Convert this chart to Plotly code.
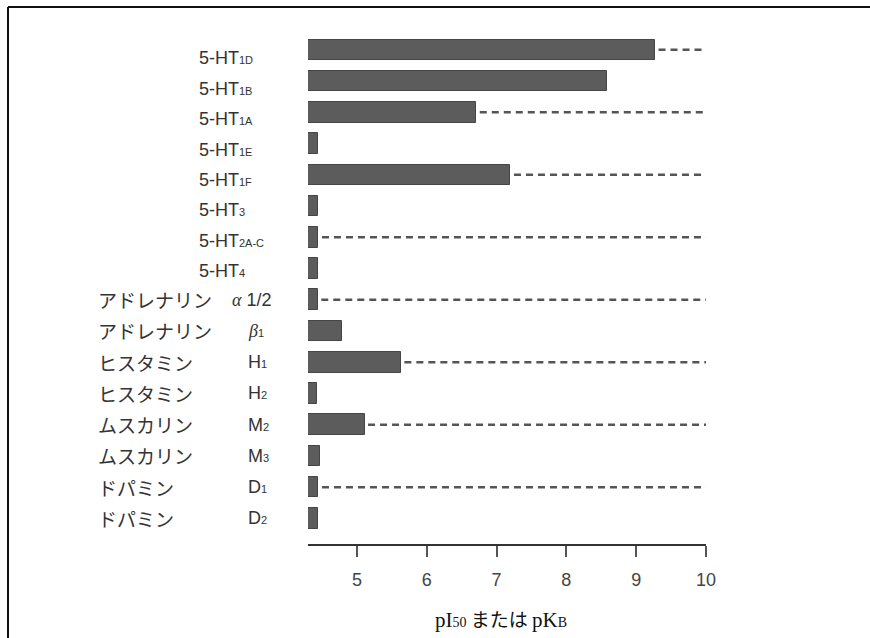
import plotly.graph_objects as go

# Receptor rows, top to bottom
row_ids = ["5-HT1D", "5-HT1B", "5-HT1A", "5-HT1E", "5-HT1F", "5-HT3", "5-HT2A-C", "5-HT4",
           "アドレナリンα1/2", "アドレナリンβ1", "ヒスタミンH1", "ヒスタミンH2",
           "ムスカリンM2", "ムスカリンM3", "ドパミンD1", "ドパミンD2"]
families = ["", "", "", "", "", "", "", "",
            "アドレナリン", "アドレナリン", "ヒスタミン", "ヒスタミン",
            "ムスカリン", "ムスカリン", "ドパミン", "ドパミン"]
subtype_main = ["5-HT", "5-HT", "5-HT", "5-HT", "5-HT", "5-HT", "5-HT", "5-HT",
                "α", "β", "H", "H", "M", "M", "D", "D"]
subtype_sub = ["1D", "1B", "1A", "1E", "1F", "3", "2A-C", "4",
               "", "1", "1", "2", "2", "3", "1", "2"]
# pI50 / pKB values (bar ends)
values = [9.27, 8.58, 6.71, 4.45, 7.20, 4.45, 4.45, 4.45,
          4.44, 4.79, 5.63, 4.43, 5.11, 4.47, 4.45, 4.45]
# rows whose value is open-ended (dashed extension to the axis end)
open_ended = [True, False, True, False, True, False, True, False,
              True, False, True, False, True, False, True, False]

x_ticks = [5, 6, 7, 8, 9, 10]
x_min, x_max = 4.3, 10

# plot-area geometry in pixels
W_FIG, H_FIG = 870, 638
L, R, T, B = 308, 164, 28, 94
PW, PH = W_FIG - L - R, H_FIG - T - B


def px_x(px):
    return (px - L) / PW


def px_y(py):
    return (H_FIG - B - py) / PH


BAR = "#5c5c5c"
TXT = "#333333"

fig = go.Figure()
fig.add_trace(go.Bar(
    y=row_ids, x=[v - x_min for v in values], base=x_min, orientation="h",
    width=0.66, marker=dict(color=BAR, line=dict(color="#454545", width=1)),
    hoverinfo="skip", showlegend=False,
))

# dashed extensions for open-ended values
dx, dy = [], []
for rid, v, o in zip(row_ids, values, open_ended):
    if o:
        dx += [v + 0.05, x_max, None]
        dy += [rid, rid, None]
fig.add_trace(go.Scatter(
    x=dx, y=dy, mode="lines", line=dict(color="#555555", width=2.5, dash="7px,5px"),
    hoverinfo="skip", showlegend=False, cliponaxis=False,
))

annotations = []
n_ht = subtype_main.count("5-HT")
ht_i = 0
for rid, fam, main, sub in zip(row_ids, families, subtype_main, subtype_sub):
    if main == "5-HT":
        # the 5-HT label column sits a little below the bars, drifting back up toward 5-HT4
        shift = -(8.3 - 5.5 * ht_i / (n_ht - 1))
        ht_i += 1
        annotations.append(dict(
            x=px_x(197), xref="paper", y=rid, yref="y", xanchor="left", yanchor="middle",
            yshift=shift, showarrow=False,
            text=f"5-HT<span style='font-size:11px'>{sub}</span>",
            font=dict(family="Liberation Sans", size=18, color=TXT),
        ))
        continue
    annotations.append(dict(
        x=px_x(96), xref="paper", y=rid, yref="y", xanchor="left", yanchor="middle",
        showarrow=False, text=fam,
        font=dict(family="Noto Sans CJK JP", size=19, color=TXT),
    ))
    if main == "α":
        txt = "<i style='font-family:Liberation Serif'>α</i> 1/2"
        annotations.append(dict(
            x=px_x(273), xref="paper", y=rid, yref="y", xanchor="right", yanchor="middle",
            showarrow=False, text=txt,
            font=dict(family="Liberation Sans", size=18, color=TXT),
        ))
    else:
        if main == "β":
            head = "<i style='font-family:Liberation Serif'>β</i>"
        else:
            head = main
        annotations.append(dict(
            x=px_x(246), xref="paper", y=rid, yref="y", xanchor="left", yanchor="middle",
            showarrow=False, text=f"{head}<span style='font-size:11px'>{sub}</span>",
            font=dict(family="Liberation Sans", size=18, color=TXT),
        ))

# axis title
serif = "font-family:Liberation Serif"
annotations.append(dict(
    x=px_x(501), xref="paper", y=px_y(618), yref="paper", xanchor="center", yanchor="middle",
    showarrow=False,
    text=(f"<span style='{serif};font-size:21px'>pI</span>"
          f"<span style='{serif};font-size:14px'>50</span> または "
          f"<span style='{serif};font-size:21px'>pK</span>"
          f"<span style='{serif};font-size:14px'>B</span>"),
    font=dict(family="Noto Sans CJK JP", size=19, color="#111111"),
))

# frame lines on the left and top
shapes = [
    dict(type="line", xref="paper", yref="paper", x0=px_x(8), x1=px_x(8),
         y0=px_y(7), y1=px_y(640), line=dict(color="#111111", width=2)),
    dict(type="line", xref="paper", yref="paper", x0=px_x(8), x1=px_x(872),
         y0=px_y(7), y1=px_y(7), line=dict(color="#111111", width=2)),
]

fig.update_layout(
    width=W_FIG, height=H_FIG,
    margin=dict(l=L, r=R, t=T, b=B),
    paper_bgcolor="white", plot_bgcolor="white",
    annotations=annotations, shapes=shapes,
    bargap=0,
    xaxis=dict(
        range=[x_min, x_max], tickvals=x_ticks, ticktext=[str(t) for t in x_ticks],
        showgrid=False, zeroline=False, showline=True, linecolor="#333333", linewidth=2,
        ticks="outside", ticklen=11, tickwidth=1.5, tickcolor="#555555",
        ticklabelstandoff=7,
        tickfont=dict(family="Liberation Sans", size=18, color="#444444"),
    ),
    yaxis=dict(
        type="category", categoryorder="array", categoryarray=row_ids,
        range=[len(row_ids) - 1 + 0.82, -0.7],
        showticklabels=False, showgrid=False, zeroline=False, showline=False, ticks="",
    ),
)

fig.write_html("out.html")
